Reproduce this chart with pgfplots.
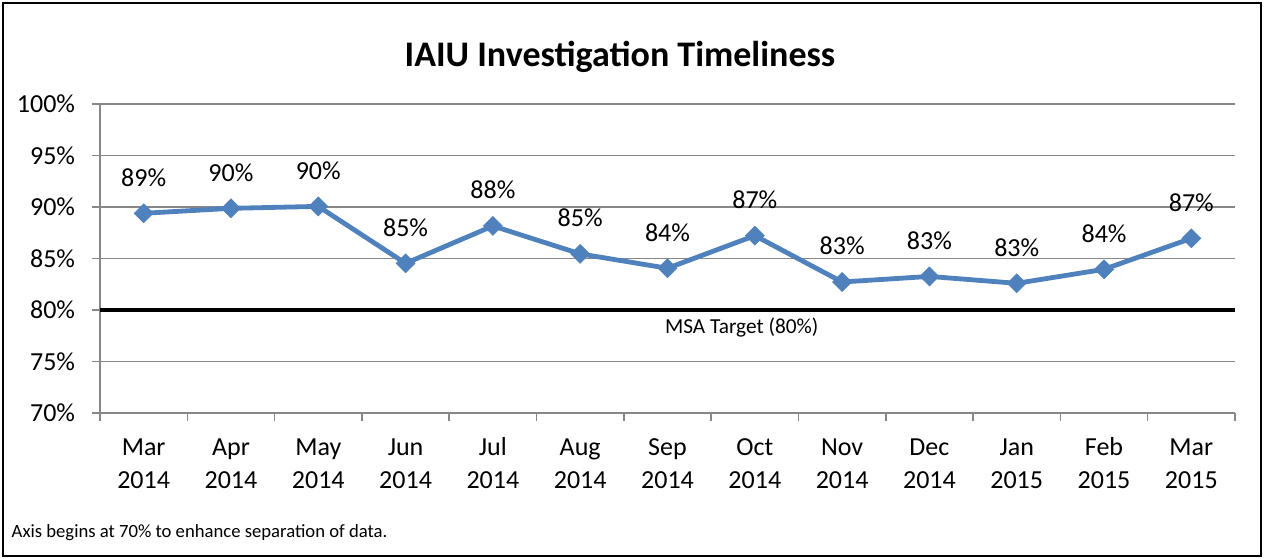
\documentclass[border=0pt]{standalone}
\usepackage{pgfplots}
\pgfplotsset{compat=1.18}
\usepackage{pgfplotstable}
\usepackage{fontspec}
\setmainfont{Carlito}
\definecolor{series}{HTML}{4F81BD}
\definecolor{gridgray}{HTML}{878787}

\pgfplotstableread{
x y lab
0 89.39 89
1 89.87 90
2 90.06 90
3 84.53 85
4 88.16 88
5 85.45 85
6 84.05 84
7 87.22 87
8 82.72 83
9 83.26 83
10 82.59 83
11 83.95 84
12 86.96 87
}\datatab

\begin{document}
\begin{tikzpicture}[x=0.75pt,y=0.75pt]
\useasboundingbox (0,0) rectangle (1265,558);
\draw[black, line width=1.2pt] (3,2) rectangle (1261,555);
\node[font=\fontsize{27}{31}\selectfont\bfseries] at (620,501) {IAIU Investigation Timeliness};
\node[font=\fontsize{14}{16}\selectfont, anchor=west] at (7,25) {Axis begins at 70\% to enhance separation of data.};
\begin{axis}[
  at={(75pt,108.75pt)}, anchor=south west,
  scale only axis, width=851.25pt, height=231.75pt,
  xmin=-0.5, xmax=12.5, ymin=70, ymax=100,
  xtick={-0.5,0.5,...,12.5},
  xticklabels={{\strut Mar\\2014},{\strut Apr\\2014},{\strut May\\2014},{\strut Jun\\2014},{\strut Jul\\2014},{\strut Aug\\2014},{\strut Sep\\2014},{\strut Oct\\2014},{\strut Nov\\2014},{\strut Dec\\2014},{\strut Jan\\2015},{\strut Feb\\2015},{\strut Mar\\2015},{}},
  xticklabel style={xshift=32.74pt, align=center, inner sep=0pt, font=\fontsize{19.5}{24.75}\selectfont, yshift=-8.3pt},
  ytick={70,75,...,100},
  yticklabel={\pgfmathprintnumber{\tick}\%},
  yticklabel style={font=\fontsize{19.5}{22}\selectfont, inner sep=0pt, xshift=-12.5pt},
  /pgf/number format/assume math mode=true,
  axis x line*=bottom, axis y line*=left,
  axis line style={gridgray, line width=1.1pt, -},
  tick align=outside,
  major tick length=6pt,
  tick style={gridgray, line width=1.1pt},
  ymajorgrids, major grid style={gridgray, line width=1.1pt},
  clip=false,
]
\addplot[black, line width=3pt, forget plot] coordinates {(-0.5,80) (12.5,80)};
\node[font=\fontsize{16}{18}\selectfont] at (axis cs:6.85,78.25) {MSA Target (80\%)};
\addplot[series, line width=3.6pt, mark=square*, mark size=5pt,
  mark options={rotate=45, solid, fill=series, draw=series, line width=0.5pt},
  point meta=explicit symbolic,
  nodes near coords={\pgfplotspointmeta\%},
  every node near coord/.style={anchor=south, inner sep=0pt, yshift=20pt, text=black, font=\fontsize{19.5}{22}\selectfont}]
  table[x=x, y=y, meta=lab] {\datatab};
\end{axis}
\end{tikzpicture}
\end{document}
